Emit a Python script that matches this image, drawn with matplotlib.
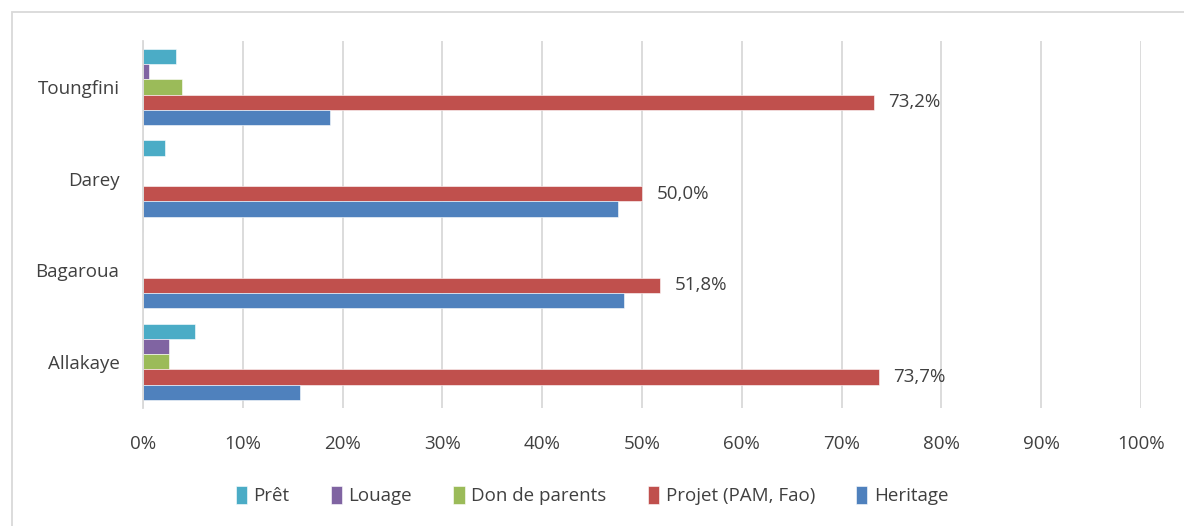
import matplotlib
matplotlib.use("Agg")
import matplotlib.pyplot as plt
import numpy as np
from matplotlib.patches import Rectangle

plt.rcParams["font.family"] = ["Open Sans", "DejaVu Sans"]

villages = ["Allakaye", "Bagaroua", "Darey", "Toungfini"]
series_names = ["Prêt", "Louage", "Don de parents", "Projet (PAM, Fao)", "Heritage"]
pret = [5.2, 0.0, 2.2, 3.3]
louage = [2.6, 0.0, 0.0, 0.6]
don = [2.6, 0.0, 0.0, 3.9]
projet = [73.7, 51.8, 50.0, 73.2]
heritage = [15.7, 48.2, 47.6, 18.7]
colors = ["#4BACC6", "#8064A2", "#9BBB59", "#C0504D", "#4F81BD"]
text_color = "#404040"

fig = plt.figure(figsize=(11.84, 5.26), dpi=100)
ax = fig.add_axes([0.1208, 0.225, 0.8429, 0.697])

y = np.arange(len(villages))
h = 0.167
series = [pret, louage, don, projet, heritage]
# top to bottom within each group: Prêt ... Heritage
offsets = [2 * h, h, 0, -h, -2 * h]
bars = []
for vals, off, col, name in zip(series, offsets, colors, series_names):
    b = ax.barh(y + off, vals, height=h, color=col, label=name,
                edgecolor="white", linewidth=0.4)
    bars.append(b)

for rect, v in zip(bars[3], projet):
    ax.text(rect.get_width() + 1.5, rect.get_y() + rect.get_height() / 2,
            f"{v:.1f}%".replace(".", ","), va="center", ha="left",
            fontsize=13.5, color=text_color)

ax.set_xlim(0, 100)
ax.set_ylim(-0.5, 3.5)
ax.set_xticks(np.arange(0, 101, 10))
ax.set_xticklabels([f"{t}%" for t in range(0, 101, 10)])
ax.set_yticks(y)
ax.set_yticklabels(villages)
ax.tick_params(axis="both", length=0, labelsize=13.5, labelcolor=text_color)
ax.tick_params(axis="x", pad=20)
ax.tick_params(axis="y", pad=17)
ax.xaxis.grid(True, color="#D9D9D9", linewidth=1.3)
ax.set_axisbelow(True)
for s in ["top", "right", "bottom"]:
    ax.spines[s].set_visible(False)
ax.spines["left"].set_color("#D9D9D9")
ax.spines["left"].set_linewidth(1.3)

leg = fig.legend(handles=bars, labels=series_names, loc="center",
                 bbox_to_anchor=(0.5, 0.058), ncol=5, frameon=False,
                 fontsize=13.5, handlelength=0.6, handleheight=1.1,
                 columnspacing=2.2, handletextpad=0.35)
for t in leg.get_texts():
    t.set_color(text_color)

fig.patches.append(Rectangle((12 / 1184, -0.1), 1.2, 1 - 12 / 526 + 0.1,
                             transform=fig.transFigure, fill=False,
                             edgecolor="#D9D9D9", linewidth=1.3))

plt.savefig("out.png", dpi=100)
plt.close()
